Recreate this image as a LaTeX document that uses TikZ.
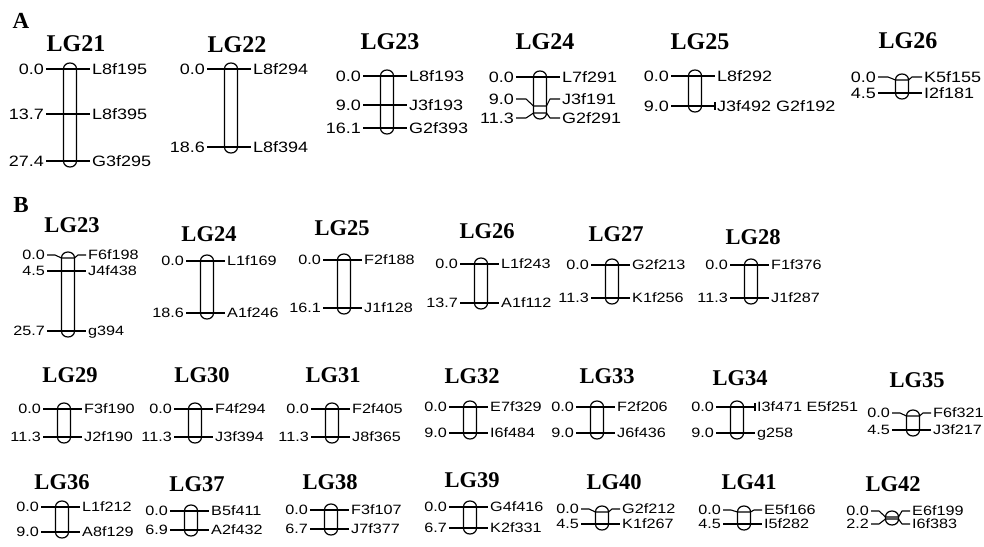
\documentclass[tikz,border=0pt]{standalone}
\usepackage{fontspec}
\setmainfont{Liberation Serif}
\newfontfamily\lblfont[FakeStretch=1.2]{Liberation Sans}
\tikzset{
  panellab/.style={font=\bfseries\fontsize{23}{25}\selectfont, text height=15pt, text depth=0pt, inner sep=0pt},
  lgtitle/.style={font=\bfseries\fontsize{22.5}{24}\selectfont, text height=15pt, text depth=0pt, inner sep=0pt},
  poslab/.style={font=\lblfont\fontsize{13.5}{15}\selectfont, text height=9.7pt, text depth=0pt, inner sep=2pt},
  mklab/.style={font=\lblfont\fontsize{13.5}{15}\selectfont, text height=9.7pt, text depth=0pt, inner sep=2pt},
  bar/.style={line width=1.2pt, line join=round},
  tickln/.style={line width=1.1pt, line join=round}
}
% bar of a linkage group: x, top, bottom
\newcommand{\lgbar}[3]{%
  \draw[bar] (#1-6.5,#2) -- (#1-6.5,#3) .. controls (#1-6.5,#3+8) and (#1+6.5,#3+8) .. (#1+6.5,#3)
    -- (#1+6.5,#2) .. controls (#1+6.5,#2-8) and (#1-6.5,#2-8) .. cycle;}
% marker: name, bar x, label y, bar y, position, marker
\newcommand{\mrk}[6]{%
  \node[poslab, anchor=east] (#1p) at (#2-\lgL,#3) {#5};
  \node[mklab, anchor=west] (#1m) at (#2+\lgR,#3) {#6};
  \draw[tickln] (#1p.east) -- ([xshift=\lgB]#1p.east) -- (#2-6.5,#4) -- (#2+6.5,#4)
    -- ([xshift=-\lgB]#1m.west) -- (#1m.west);}
\newcommand{\mrkbar}[1]{\draw[tickln] ([yshift=4pt]#1m.west) -- ([yshift=-4pt]#1m.west);}

\begin{document}
\begin{tikzpicture}[x=1pt,y=-1pt]
\useasboundingbox (0,0) rectangle (984,546);

% ---------------- Panel A ----------------
\begin{scope}[poslab/.append style={font=\lblfont\fontsize{15}{17}\selectfont, text height=10.7pt},
  mklab/.append style={font=\lblfont\fontsize{15}{17}\selectfont, text height=10.7pt},
  lgtitle/.append style={font=\bfseries\fontsize{24}{26}\selectfont}]
\def\lgL{24}\def\lgR{20}\def\lgB{10pt}
\node[panellab] (pa) at (21,21) {A};

\node[lgtitle] (t21a) at (76,44) {LG21};
\lgbar{70}{69}{161}
\mrk{a21a}{70}{69}{69}{0.0}{L8f195}
\mrk{a21b}{70}{114}{114}{13.7}{L8f395}
\mrk{a21c}{70}{161}{161}{27.4}{G3f295}

\node[lgtitle] (t22a) at (237,45) {LG22};
\lgbar{231}{69}{147}
\mrk{a22a}{231}{69}{69}{0.0}{L8f294}
\mrk{a22b}{231}{147}{147}{18.6}{L8f394}

\node[lgtitle] (t23a) at (390,42) {LG23};
\lgbar{387}{76}{128}
\mrk{a23a}{387}{76}{76}{0.0}{L8f193}
\mrk{a23b}{387}{105}{105}{9.0}{J3f193}
\mrk{a23c}{387}{128}{128}{16.1}{G2f393}

\node[lgtitle] (t24a) at (545,42) {LG24};
\lgbar{540}{77}{113}
\mrk{a24a}{540}{77}{77}{0.0}{L7f291}
\mrk{a24b}{540}{99}{106}{9.0}{J3f191}
\mrk{a24c}{540}{118}{113}{11.3}{G2f291}

\node[lgtitle] (t25a) at (700,42) {LG25};
\lgbar{695}{76}{106}
\mrk{a25a}{695}{76}{76}{0.0}{L8f292}
\mrk{a25b}{695}{106}{106}{9.0}{J3f492 G2f192}
\mrkbar{a25b}

\node[lgtitle] (t26a) at (908,41) {LG26};
\lgbar{902}{80}{93}
\mrk{a26a}{902}{77}{80}{0.0}{K5f155}
\mrk{a26b}{902}{93}{93}{4.5}{I2f181}
\end{scope}

% ---------------- Panel B ----------------
\def\lgL{21}\def\lgR{18}\def\lgB{8pt}
\node[panellab] (pb) at (21,205) {B};

% first row
\node[lgtitle] (t23b) at (72,225) {LG23};
\lgbar{68}{258}{331}
\mrk{b23a}{68}{255}{258}{0.0}{F6f198}
\mrk{b23b}{68}{271}{271}{4.5}{J4f438}
\mrk{b23c}{68}{331}{331}{25.7}{g394}

\node[lgtitle] (t24b) at (209,234) {LG24};
\lgbar{207}{261}{313}
\mrk{b24a}{207}{261}{261}{0.0}{L1f169}
\mrk{b24b}{207}{313}{313}{18.6}{A1f246}

\node[lgtitle] (t25b) at (342,228) {LG25};
\lgbar{344}{260}{308}
\mrk{b25a}{344}{260}{260}{0.0}{F2f188}
\mrk{b25b}{344}{308}{308}{16.1}{J1f128}

\node[lgtitle] (t26b) at (487,231) {LG26};
\lgbar{481}{264}{303}
\mrk{b26a}{481}{264}{264}{0.0}{L1f243}
\mrk{b26b}{481}{303}{303}{13.7}{A1f112}

\node[lgtitle] (t27b) at (616,234) {LG27};
\lgbar{612}{265}{298}
\mrk{b27a}{612}{265}{265}{0.0}{G2f213}
\mrk{b27b}{612}{298}{298}{11.3}{K1f256}

\node[lgtitle] (t28b) at (753,237) {LG28};
\lgbar{751}{265}{298}
\mrk{b28a}{751}{265}{265}{0.0}{F1f376}
\mrk{b28b}{751}{298}{298}{11.3}{J1f287}

% second row
\node[lgtitle] (t29b) at (70,375) {LG29};
\lgbar{64}{409}{437}
\mrk{b29a}{64}{409}{409}{0.0}{F3f190}
\mrk{b29b}{64}{437}{437}{11.3}{J2f190}

\node[lgtitle] (t30b) at (202,375) {LG30};
\lgbar{195}{409}{437}
\mrk{b30a}{195}{409}{409}{0.0}{F4f294}
\mrk{b30b}{195}{437}{437}{11.3}{J3f394}

\node[lgtitle] (t31b) at (333,375) {LG31};
\lgbar{332}{409}{437}
\mrk{b31a}{332}{409}{409}{0.0}{F2f405}
\mrk{b31b}{332}{437}{437}{11.3}{J8f365}

\node[lgtitle] (t32b) at (472,376) {LG32};
\lgbar{470}{407}{433}
\mrk{b32a}{470}{407}{407}{0.0}{E7f329}
\mrk{b32b}{470}{433}{433}{9.0}{I6f484}

\node[lgtitle] (t33b) at (607,376) {LG33};
\lgbar{597}{407}{433}
\mrk{b33a}{597}{407}{407}{0.0}{F2f206}
\mrk{b33b}{597}{433}{433}{9.0}{J6f436}

\node[lgtitle] (t34b) at (740,378) {LG34};
\lgbar{737}{407}{433}
\mrk{b34a}{737}{407}{407}{0.0}{I3f471 E5f251}
\mrkbar{b34a}
\mrk{b34b}{737}{433}{433}{9.0}{g258}

\node[lgtitle] (t35b) at (917,380) {LG35};
\lgbar{913}{416}{430}
\mrk{b35a}{913}{413}{416}{0.0}{F6f321}
\mrk{b35b}{913}{430}{430}{4.5}{J3f217}

% third row
\node[lgtitle] (t36b) at (62,482) {LG36};
\lgbar{62}{507}{532}
\mrk{b36a}{62}{507}{507}{0.0}{L1f212}
\mrk{b36b}{62}{532}{532}{9.0}{A8f129}

\node[lgtitle] (t37b) at (197,484) {LG37};
\lgbar{191}{511}{530}
\mrk{b37a}{191}{511}{511}{0.0}{B5f411}
\mrk{b37b}{191}{530}{530}{6.9}{A2f432}

\node[lgtitle] (t38b) at (330,482) {LG38};
\lgbar{331}{510}{529}
\mrk{b38a}{331}{510}{510}{0.0}{F3f107}
\mrk{b38b}{331}{529}{529}{6.7}{J7f377}

\node[lgtitle] (t39b) at (472,480) {LG39};
\lgbar{470}{507}{528}
\mrk{b39a}{470}{507}{507}{0.0}{G4f416}
\mrk{b39b}{470}{528}{528}{6.7}{K2f331}

\node[lgtitle] (t40b) at (614,482) {LG40};
\lgbar{602}{512}{524}
\mrk{b40a}{602}{509}{512}{0.0}{G2f212}
\mrk{b40b}{602}{524}{524}{4.5}{K1f267}

\node[lgtitle] (t41b) at (749,482) {LG41};
\lgbar{744}{512}{524}
\mrk{b41a}{744}{510}{512}{0.0}{E5f166}
\mrk{b41b}{744}{524}{524}{4.5}{I5f282}

\node[lgtitle] (t42b) at (893,484) {LG42};
\lgbar{892}{517}{519}
\mrk{b42a}{892}{511}{517}{0.0}{E6f199}
\mrk{b42b}{892}{524}{519}{2.2}{I6f383}

\end{tikzpicture}
\end{document}
